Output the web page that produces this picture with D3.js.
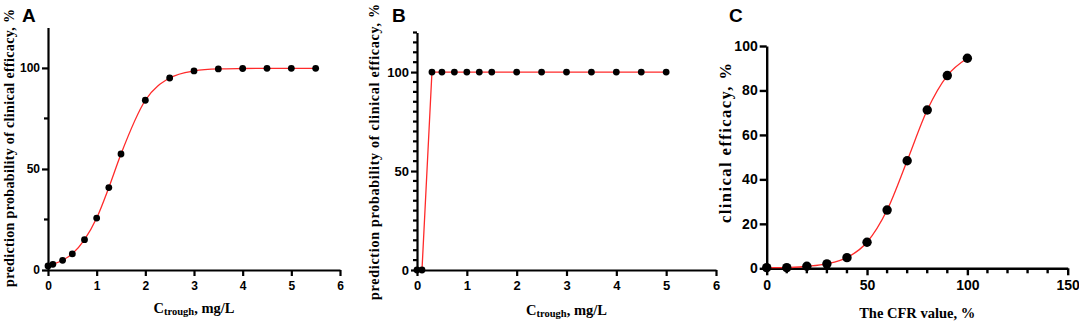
<!DOCTYPE html>
<html>
<head>
<meta charset="utf-8">
<script src="https://cdn.jsdelivr.net/npm/d3@7"></script>
<style>
  html, body { margin: 0; padding: 0; background: #fff; }
  svg { display: block; }
  .tick text { font-family: "Liberation Sans", Arial, sans-serif; font-weight: bold; fill: #000; }
  .lbl { font-family: "Liberation Serif", "Times New Roman", serif; font-weight: bold; fill: #000; }
  .letter { font-family: "Liberation Sans", Arial, sans-serif; font-weight: bold; fill: #000; }
</style>
</head>
<body>
<script>
// ---- Data ----
const aX = [0, 0.1, 0.3, 0.5, 0.75, 1, 1.25, 1.5, 2, 2.5, 3, 3.5, 4, 4.5, 5, 5.5];
const aY = [2, 2.8, 4.8, 8, 15, 25.7, 40.8, 57.4, 84, 95, 98.5, 99.5, 99.7, 99.8, 99.8, 99.8];

const bX = [0, 0.1, 0.3, 0.5, 0.75, 1, 1.25, 1.5, 2, 2.5, 3, 3.5, 4, 4.5, 5];
const bY = [0, 0, 100, 100, 100, 100, 100, 100, 100, 100, 100, 100, 100, 100, 100];

const cX = [0, 10, 20, 30, 40, 50, 60, 70, 80, 90, 100];
const cY = [0.3, 0.3, 0.9, 2, 4.8, 11.7, 26.2, 48.4, 71.2, 86.7, 94.5];

const abXTicks = [0, 1, 2, 3, 4, 5, 6];
const abYTicks = [0, 50, 100];
const aYMinor = [25, 75];
const bYMinor = d3.range(5, 125, 5).filter(v => v % 50 !== 0);
const cXTicks = [0, 50, 100, 150];
const cXMinor = d3.range(10, 150, 10).filter(v => v % 50 !== 0);
const cYTicks = [0, 20, 40, 60, 80, 100];

const W = 1079, H = 326;
const svg = d3.select("body").append("svg").attr("width", W).attr("height", H);

function panel(cfg) {
  const g = svg.append("g");
  const x = d3.scaleLinear().domain(cfg.xDom).range([cfg.x0, cfg.x1]);
  const y = d3.scaleLinear().domain(cfg.yDom).range([cfg.y0, cfg.y1]);

  // minor ticks
  g.selectAll("line.ymin").data(cfg.yMinor || []).enter().append("line")
    .attr("x1", cfg.x0 - cfg.minorLen).attr("x2", cfg.x0)
    .attr("y1", d => y(d)).attr("y2", d => y(d))
    .attr("stroke", "#000").attr("stroke-width", cfg.sw);
  g.selectAll("line.xmin").data(cfg.xMinor || []).enter().append("line")
    .attr("x1", d => x(d)).attr("x2", d => x(d))
    .attr("y1", cfg.y0).attr("y2", cfg.y0 + cfg.minorLen)
    .attr("stroke", "#000").attr("stroke-width", cfg.sw);

  const fmt = d3.format("d");
  const xa = g.append("g").attr("transform", `translate(0,${cfg.y0})`)
    .call(d3.axisBottom(x).tickValues(cfg.xTicks).tickFormat(fmt).tickSize(cfg.majorLen).tickPadding(cfg.xPad).tickSizeOuter(0));
  const ya = g.append("g").attr("transform", `translate(${cfg.x0},0)`)
    .call(d3.axisLeft(y).tickValues(cfg.yTicks).tickFormat(fmt).tickSize(cfg.majorLen).tickPadding(cfg.yPad).tickSizeOuter(0));
  [xa, ya].forEach(a => {
    a.select(".domain").attr("stroke", "#000").attr("stroke-width", cfg.sw);
    a.selectAll(".tick line").attr("stroke", "#000").attr("stroke-width", cfg.sw);
    a.selectAll(".tick text").style("font-size", cfg.tickFont + "px");
  });

  const pts = cfg.xs.map((v, i) => [v, cfg.ys[i]]);
  const line = d3.line().x(d => x(d[0])).y(d => y(d[1])).curve(cfg.curve);
  g.append("path").attr("d", line(pts)).attr("fill", "none")
    .attr("stroke", "#ff2a2a").attr("stroke-width", 1.3);
  g.selectAll("circle").data(pts).enter().append("circle")
    .attr("cx", d => x(d[0])).attr("cy", d => y(d[1])).attr("r", cfg.r).attr("fill", "#000");

  // letter
  g.append("text").attr("class", "letter").attr("x", cfg.letterX).attr("y", 22)
    .style("font-size", "19px").text(cfg.letter);

  // y label
  g.append("text").attr("class", "lbl")
    .attr("transform", `translate(${cfg.ylX},${cfg.ylY}) rotate(-90)`)
    .attr("text-anchor", "middle").style("font-size", cfg.ylFont + "px")
    .attr("textLength", cfg.ylLen).attr("lengthAdjust", "spacing")
    .text(cfg.ylabel);

  // x label
  const xl = g.append("text").attr("class", "lbl")
    .attr("x", (cfg.x0 + cfg.x1) / 2).attr("y", cfg.xlY)
    .attr("text-anchor", "middle").style("font-size", "14.5px");
  if (cfg.sub) {
    xl.append("tspan").text("C");
    xl.append("tspan").attr("dy", 2).style("font-size", "10.5px").text("trough");
    xl.append("tspan").attr("dy", -2).text(", mg/L");
  } else {
    xl.text(cfg.xlabel);
  }
}

panel({
  xs: aX, ys: aY, xDom: [0, 6], yDom: [0, 120],
  x0: 48, x1: 340, y0: 270, y1: 27.5,
  xTicks: abXTicks, yTicks: abYTicks, yMinor: aYMinor,
  majorLen: 6, minorLen: 4, sw: 2.2, xPad: 5, yPad: 2, tickFont: 12,
  curve: d3.curveMonotoneX, r: 3.4,
  letter: "A", letterX: 22,
  ylabel: "prediction probability of clinical efficacy, %", ylX: 14, ylY: 148, ylLen: 278, ylFont: 14,
  sub: true, xlY: 313
});

panel({
  xs: bX, ys: bY, xDom: [0, 6], yDom: [0, 120],
  x0: 417, x1: 716, y0: 270, y1: 32.5,
  xTicks: abXTicks, yTicks: abYTicks, yMinor: bYMinor,
  majorLen: 6, minorLen: 4, sw: 2.2, xPad: 5, yPad: 2, tickFont: 13,
  curve: d3.curveLinear, r: 3.4,
  letter: "B", letterX: 392,
  ylabel: "prediction probability of clinical efficacy, %", ylX: 379, ylY: 152, ylLen: 296, ylFont: 14,
  sub: true, xlY: 315
});

panel({
  xs: cX, ys: cY, xDom: [0, 150], yDom: [0, 100],
  x0: 766.7, x1: 1067.7, y0: 268.3, y1: 46,
  xTicks: cXTicks, yTicks: cYTicks, xMinor: cXMinor,
  majorLen: 7, minorLen: 5, sw: 2.4, xPad: 5, yPad: 2, tickFont: 14,
  curve: d3.curveMonotoneX, r: 4.7,
  letter: "C", letterX: 729,
  ylabel: "clinical efficacy, %", ylX: 731, ylY: 143, ylLen: 160, ylFont: 16.5,
  sub: false, xlabel: "The CFR value, %", xlY: 318
});
</script>
</body>
</html>
